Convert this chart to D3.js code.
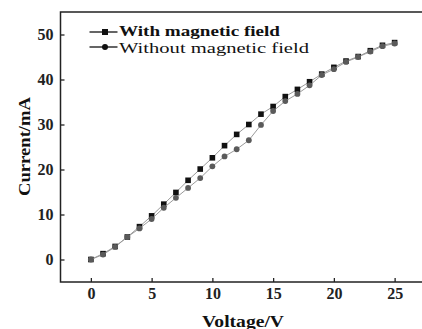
<!DOCTYPE html>
<html>
<head>
<meta charset="utf-8">
<script src="https://cdn.jsdelivr.net/npm/d3@7"></script>
<style>
  body { margin: 0; background: #fff; }
  svg { display: block; font-family: "Liberation Serif", "Times New Roman", serif; }
</style>
</head>
<body>
<svg id="chart" width="422" height="329"></svg>
<script>
// voltage steps (V)
const voltage = d3.range(0, 26);
// current readings (mA)
const withField = [0, 1.3, 2.9, 5.0, 7.3, 9.7, 12.3, 14.9, 17.6, 20.1, 22.6, 25.3, 27.8, 30.0, 32.3,
  34.0, 36.2, 37.8, 39.5, 41.2, 42.7, 44.1, 45.1, 46.4, 47.6, 48.2];
const withoutField = [0, 1.1, 2.8, 5.0, 6.9, 9.0, 11.5, 13.7, 15.9, 18.1, 20.7, 22.9, 24.5, 26.5, 29.9,
  33.0, 35.2, 36.8, 38.7, 41.0, 42.3, 43.9, 45.0, 46.2, 47.4, 48.0];
const xTicks = [0, 5, 10, 15, 20, 25];
const yTicks = [0, 10, 20, 30, 40, 50];
const legendLabels = ["With magnetic field", "Without magnetic field"];

const svg = d3.select("#chart");
const plotLeft = 60.5, plotTop = 12, plotRight = 425, plotBottom = 282;

const x = d3.scaleLinear().domain([-2.5, 27.5]).range([plotLeft, plotRight]);
const y = d3.scaleLinear().domain([-5, 55]).range([plotBottom, plotTop]);

// frame
svg.append("rect")
  .attr("x", plotLeft).attr("y", plotTop)
  .attr("width", plotRight - plotLeft).attr("height", plotBottom - plotTop)
  .attr("fill", "none").attr("stroke", "#222").attr("stroke-width", 1.5);

// axes, ticks pointing inward
const xAxis = svg.append("g")
  .attr("transform", "translate(0," + plotBottom + ")")
  .call(d3.axisBottom(x).tickValues(xTicks).tickSizeInner(-4).tickSizeOuter(0).tickPadding(6));
const yAxis = svg.append("g")
  .attr("transform", "translate(" + plotLeft + ",0)")
  .call(d3.axisLeft(y).tickValues(yTicks).tickSizeInner(-4).tickSizeOuter(0).tickPadding(7));

[xAxis, yAxis].forEach(g => {
  g.select(".domain").remove();
  g.selectAll(".tick line").attr("stroke", "#222").attr("stroke-width", 1.3);
  g.selectAll(".tick text")
    .attr("fill", "#222")
    .style("font-family", "Liberation Serif")
    .style("font-size", "16px")
    .style("font-weight", "bold");
});

// series
const series = [
  { values: withField, fill: "#111", shape: "square" },
  { values: withoutField, fill: "#5a5a5a", shape: "circle" }
];
const line = d3.line().x(d => x(d[0])).y(d => y(d[1]));

series.forEach(s => {
  const pts = voltage.map((v, i) => [v, s.values[i]]);
  svg.append("path")
    .datum(pts)
    .attr("d", line)
    .attr("fill", "none")
    .attr("stroke", "#9a9a9a")
    .attr("stroke-width", 1);
  if (s.shape === "square") {
    svg.selectAll(null).data(pts).enter().append("rect")
      .attr("x", d => x(d[0]) - 2.8)
      .attr("y", d => y(d[1]) - 2.8)
      .attr("width", 5.6).attr("height", 5.6)
      .attr("fill", s.fill);
  } else {
    svg.selectAll(null).data(pts).enter().append("circle")
      .attr("cx", d => x(d[0]))
      .attr("cy", d => y(d[1]))
      .attr("r", 2.9)
      .attr("fill", s.fill);
  }
});

// legend
const legend = [
  { label: legendLabels[0], ly: 32, base: 36, size: 15, weight: "bold", len: 161, shape: "square" },
  { label: legendLabels[1], ly: 47, base: 53, size: 15, weight: "normal", len: 190, shape: "circle" }
];
legend.forEach(l => {
  svg.append("line")
    .attr("x1", 89.5).attr("x2", 117.5)
    .attr("y1", l.ly).attr("y2", l.ly)
    .attr("stroke", "#111").attr("stroke-width", 1.3);
  if (l.shape === "square") {
    svg.append("rect").attr("x", 102).attr("y", l.ly - 3).attr("width", 6).attr("height", 6).attr("fill", "#111");
  } else {
    svg.append("circle").attr("cx", 105).attr("cy", l.ly).attr("r", 3).attr("fill", "#111");
  }
  svg.append("text")
    .attr("x", 119).attr("y", l.base)
    .attr("textLength", l.len).attr("lengthAdjust", "spacingAndGlyphs")
    .style("font-size", l.size + "px")
    .style("font-weight", l.weight)
    .attr("fill", "#111")
    .text(l.label);
});

// axis titles
svg.append("text")
  .attr("x", 243).attr("y", 326.5)
  .attr("text-anchor", "middle")
  .attr("textLength", 82).attr("lengthAdjust", "spacingAndGlyphs")
  .style("font-size", "17px").style("font-weight", "bold")
  .attr("fill", "#111")
  .text("Voltage/V");

svg.append("text")
  .attr("transform", "translate(30,146.5) rotate(-90)")
  .attr("text-anchor", "middle")
  .attr("textLength", 99).attr("lengthAdjust", "spacingAndGlyphs")
  .style("font-size", "17px").style("font-weight", "bold")
  .attr("fill", "#111")
  .text("Current/mA");
</script>
</body>
</html>
